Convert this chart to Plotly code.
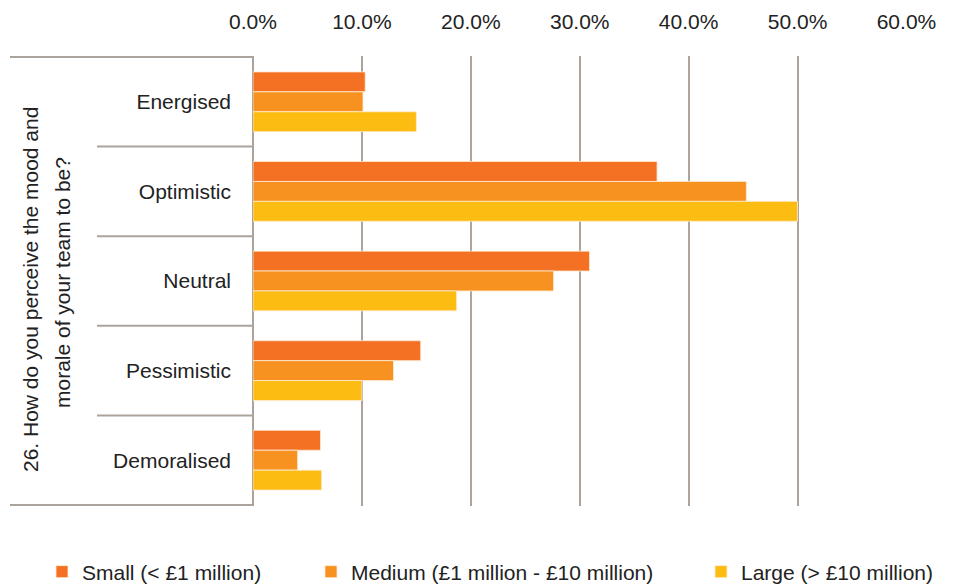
import plotly.graph_objects as go

# Survey answers: perceived team mood and morale, by company size
categories = ["Energised", "Optimistic", "Neutral", "Pessimistic", "Demoralised"]
small = [10.3, 37.1, 30.9, 15.4, 6.2]
medium = [10.1, 45.3, 27.6, 12.9, 4.1]
large = [15.0, 50.0, 18.7, 10.0, 6.3]

series_names = ["Small (< £1 million)", "Medium (£1 million - £10 million)", "Large (> £10 million)"]
series_colors = ["#F47022", "#F79120", "#FDBC11"]
question_lines = ["26. How do you perceive the mood and", "morale of your team to be?"]
x_ticks = [0, 10, 20, 30, 40, 50, 60]

FONT = "Liberation Sans, Arial, Helvetica, sans-serif"
FS = 21
LINE = "#ACA49C"

fig = go.Figure()
legend_ids = ["legend2", "legend3", "legend4"]
for name, vals, col, lg in zip(series_names, [small, medium, large], series_colors, legend_ids):
    fig.add_trace(go.Bar(
        y=categories, x=vals, name=name, orientation="h",
        marker=dict(color=col, line=dict(color="rgba(255,235,210,0.8)", width=1)),
        legend=lg,
    ))

# category separators on the left and outer rules
shapes = []
for b in [0.5, 1.5, 2.5, 3.5]:
    shapes.append(dict(type="line", xref="paper", yref="y", x0=-0.2385, x1=0, y0=b, y1=b,
                       line=dict(color=LINE, width=2)))
for b in [-0.5, 4.5]:
    shapes.append(dict(type="line", xref="paper", yref="y", x0=-0.3716, x1=0, y0=b, y1=b,
                       line=dict(color=LINE, width=2)))

annotations = [
    dict(text=question_lines[0], textangle=-90, xref="paper", yref="paper",
         x=(30 - 253) / 654, y=(506 - 290) / 450, xanchor="center", yanchor="middle",
         showarrow=False, font=dict(size=FS, color="#222", family=FONT)),
    dict(text=question_lines[1], textangle=-90, xref="paper", yref="paper",
         x=(62 - 253) / 654, y=(506 - 283) / 450, xanchor="center", yanchor="middle",
         showarrow=False, font=dict(size=FS, color="#222", family=FONT)),
]

legend_common = dict(orientation="h", xref="container", yref="container", yanchor="middle",
                     xanchor="left", font=dict(size=FS, color="#222", family=FONT),
                     bgcolor="rgba(0,0,0,0)")
legend_y = 1 - 572 / 584

fig.update_layout(
    width=954, height=584,
    margin=dict(l=253, r=47, t=56, b=78, autoexpand=False),
    paper_bgcolor="white", plot_bgcolor="white",
    barmode="group", bargap=1 / 3, bargroupgap=0,
    font=dict(family=FONT, size=FS, color="#222"),
    showlegend=True,
    xaxis=dict(side="top", range=[0, 60.05], tickvals=x_ticks,
               ticktext=[f"{v:.1f}%" for v in x_ticks],
               showgrid=True, gridcolor=LINE, gridwidth=2,
               zeroline=True, zerolinecolor=LINE, zerolinewidth=2,
               showline=False, ticks="", ticklabelstandoff=22,
               tickfont=dict(size=FS, color="#222")),
    yaxis=dict(autorange="reversed", showgrid=False, zeroline=False, showline=False,
               ticks="", ticklabelstandoff=21, tickfont=dict(size=FS, color="#222")),
    shapes=shapes, annotations=annotations,
    legend2=dict(legend_common, x=42 / 954, y=legend_y),
    legend3=dict(legend_common, x=311 / 954, y=legend_y),
    legend4=dict(legend_common, x=701 / 954, y=legend_y),
)

fig.write_html("out.html")
